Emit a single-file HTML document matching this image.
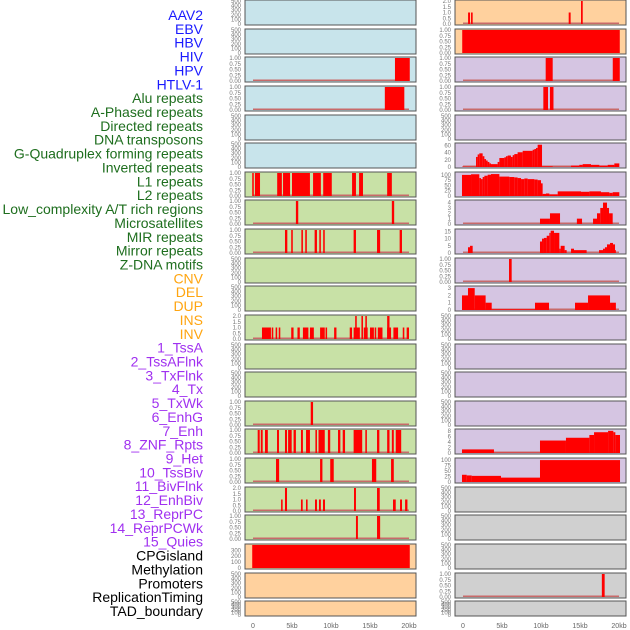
<!DOCTYPE html>
<html><head><meta charset="utf-8"><style>
html,body{margin:0;padding:0;background:#fff;}
svg{display:block;font-family:"Liberation Sans",sans-serif;}
</style></head><body>
<svg id="chart" width="630" height="630" viewBox="0 0 630 630" xmlns="http://www.w3.org/2000/svg"></svg>
<script>
// ---- data ----
const trackLabels = ["AAV2","EBV","HBV","HIV","HPV","HTLV-1","Alu repeats","A-Phased repeats","Directed repeats","DNA transposons","G-Quadruplex forming repeats","Inverted repeats","L1 repeats","L2 repeats","Low_complexity A/T rich regions","Microsatellites","MIR repeats","Mirror repeats","Z-DNA motifs","CNV","DEL","DUP","INS","INV","1_TssA","2_TssAFlnk","3_TxFlnk","4_Tx","5_TxWk","6_EnhG","7_Enh","8_ZNF_Rpts","9_Het","10_TssBiv","11_BivFlnk","12_EnhBiv","13_ReprPC","14_ReprPCWk","15_Quies","CPGisland","Methylation","Promoters","ReplicationTiming","TAD_boundary"];
const labelGroups = ["v","v","v","v","v","v","r","r","r","r","r","r","r","r","r","r","r","r","r","c","c","c","c","c","s","s","s","s","s","s","s","s","s","s","s","s","s","s","s","k","k","k","k","k"];
const xTicks = [0,5,10,15,20];
const xTickLabels = ["0","5kb","10kb","15kb","20kb"];
const ticksEmpty = [0,100,200,300,400,500];
const ticksUnit = [0,0.25,0.5,0.75,1];
const ticksTwo = [0,0.5,1,1.5,2];

// left column bars [startKb, endKb, value]
const L3 = [[18.2,20.1,1]];
const L4 = [[16.9,19.4,1]];
const L7 = [[-0.1,0.1,1],[0.25,0.9,1],[3.1,3.7,1],[3.85,4.75,1],[5.0,7.3,1],[7.7,8.7,1],[9.0,10.1,1],[12.7,13.2,1],[13.6,14.1,1],[17.2,17.8,1]];
const L8 = [[5.5,5.8,1],[17.8,18.1,1]];
const L9 = [[4.1,4.4,1],[4.9,5.1,1],[6.2,6.4,1],[6.7,6.9,1],[7.9,8.2,1],[8.5,8.7,1],[9.0,9.2,1],[12.9,13.2,1],[15.9,16.3,1],[18.8,19.1,1]];
const L12 = [[1.15,2.3,1],[2.4,2.6,1],[2.9,3.1,1],[3.3,3.5,1],[4.9,5.2,1],[5.7,6.0,1],[6.4,7.1,1],[7.3,7.8,1],[8.6,9.2,1],[9.3,9.5,1],[10.4,10.7,1],[12.4,12.7,1],[12.9,13.7,1],[13.1,13.3,2],[13.9,14.1,2],[14.2,14.7,1],[14.4,14.6,2],[15.0,15.5,1],[15.6,15.8,1],[16.0,16.6,1],[17.2,17.7,1],[17.2,17.5,2],[18.0,18.6,1],[19.2,19.4,1],[19.7,20.0,1]];
const L15 = [[7.4,7.7,1]];
const L16 = [[0.6,0.86,1],[1.0,1.24,1],[1.54,1.9,1],[3.08,3.33,1],[4.1,4.36,1],[4.5,4.96,1],[5.2,5.5,1],[6.15,6.4,1],[6.8,7.3,1],[8.0,8.2,1],[8.4,9.2,1],[9.6,9.9,1],[10.9,11.2,1],[11.5,11.8,1],[12.9,14.0,1],[14.4,14.6,1],[15.9,16.2,1],[17.2,17.5,1],[17.8,18.05,1],[18.3,19.0,1]];
const L17 = [[2.95,3.35,1],[8.6,8.9,1],[9.9,10.35,1],[15.25,15.8,1],[17.7,18.05,1]];
const L18 = [[3.6,3.8,1],[4.1,4.36,2],[6.15,6.37,1],[6.8,7.0,1],[7.95,8.2,1],[8.46,8.7,1],[8.97,9.23,1],[12.95,13.2,2],[15.9,16.25,2],[17.95,18.3,1],[18.85,19.1,1],[19.5,19.8,1]];
const L19 = [[13.2,13.45,1],[15.9,16.3,1]];
const L20 = [[-0.1,20.1,390]];

// right column bars
const R1 = [[0.65,0.9,1],[1.03,1.24,1],[13.55,13.8,1],[15.13,15.35,2]];
const R2 = [[-0.1,20.1,1]];
const R3 = [[10.6,11.5,1],[19.2,20.1,1]];
const R4 = [[10.3,10.9,1],[11.15,11.6,1]];
const R6 = [[-0.13,1.67,1],[1.67,1.88,28],[1.88,2.09,35],[2.09,2.52,38],[2.52,2.74,30],[2.74,2.95,22],[2.95,3.16,18],[3.16,3.38,14],[3.38,3.59,10],[3.59,4.44,8],[4.44,4.66,14],[4.66,5.3,25],[5.3,5.51,27],[5.51,5.73,30],[5.73,6.15,32],[6.15,6.37,28],[6.37,6.58,33],[6.58,7.0,36],[7.0,7.65,41],[7.65,8.93,45],[8.93,9.15,48],[9.15,9.36,50],[9.36,9.57,53],[9.57,10.13,62],[10.13,11.5,2],[11.5,13.85,0.5],[13.85,14.91,4],[14.91,15.34,6],[15.34,16.41,8],[16.41,17.48,6],[17.48,18.55,4],[18.55,19.4,6],[19.4,20.04,10]];
const R7 = [[-0.13,1.03,100],[1.03,2.09,103],[2.09,2.31,85],[2.31,2.52,80],[2.52,2.74,90],[2.74,3.16,96],[3.16,3.59,101],[3.59,4.66,104],[4.66,4.87,92],[4.87,5.94,92],[5.94,6.58,90],[6.58,7.0,88],[7.0,7.44,85],[7.44,7.86,80],[7.86,8.29,83],[8.29,9.15,80],[9.15,9.57,78],[9.57,10.0,75],[10.0,10.21,60],[10.21,10.64,10],[10.64,11.07,12],[11.07,12.14,8],[12.14,15.13,22],[15.13,16.2,20],[16.2,17.69,22],[17.69,18.76,18],[18.76,19.19,15],[19.19,20.04,18]];
const R8 = [[9.87,11.15,1],[11.15,12.44,2],[14.6,15.26,1],[16.67,17.18,1],[17.18,17.6,2],[17.6,17.95,3],[17.95,18.46,4],[18.46,18.72,3],[18.72,19.19,2]];
const R9 = [[0.64,0.9,4],[0.9,1.24,5],[9.87,10.13,8],[10.13,10.38,10],[10.38,10.73,10.5],[10.73,11.07,12],[11.07,11.24,14],[11.24,11.67,15.5],[11.67,12.35,14],[12.35,12.52,3],[12.52,13.03,5],[13.03,13.29,2],[13.85,14.23,3],[14.23,15.85,2],[17.44,17.95,2],[17.95,18.2,3],[18.2,18.46,4],[18.46,18.85,6],[18.85,19.23,7],[19.23,19.49,6],[19.49,19.6,2]];
const R10 = [[5.9,6.24,1]];
const R11 = [[-0.13,0.64,2],[0.64,1.5,3],[1.5,2.9,2],[2.9,3.68,1],[3.68,9.23,0.1],[9.23,11.03,1],[14.36,16.03,1],[16.03,18.85,2],[18.85,19.6,1]];
const R16 = [[-0.13,3.97,1.3],[3.97,9.87,0.1],[9.87,13.2,4.5],[13.2,16.2,5.5],[16.2,16.8,6.5],[16.8,18.6,7.5],[18.6,19.27,8],[19.27,19.53,7.5],[19.53,20.13,6.5]];
const R17 = [[-0.13,0.47,33],[0.47,1.11,30],[1.11,4.87,28],[4.87,9.87,20],[9.87,20.13,100]];
const R21 = [[17.8,18.16,1]];

// ---- layout ----
const rowTops = [0,29,57,86,115,143,172,200,229,258,286,315,344,372,401,429,458,487,515,544,573,601];
const colLeft = [{x0:245,x1:416,z:253},{x0:455,x1:626,z:463}];
const pxPerKb = 7.8;
const bgColors = {b:"#c8e4eb",g:"#c8e1a6",o:"#ffd19e",p:"#d5c5e2",k:"#d0d0d0"};
const E = null;
const leftPanels = [
 ["b",E,500,ticksEmpty,0],["b",E,500,ticksEmpty,0],["b",L3,1,ticksUnit,2],["b",L4,1,ticksUnit,2],["b",E,500,ticksEmpty,0],["b",E,500,ticksEmpty,0],
 ["g",L7,1,ticksUnit,2],["g",L8,1,ticksUnit,2],["g",L9,1,ticksUnit,2],["g",E,500,ticksEmpty,0],["g",E,500,ticksEmpty,0],["g",L12,2,ticksTwo,1],
 ["g",E,500,ticksEmpty,0],["g",E,500,ticksEmpty,0],["g",L15,1,ticksUnit,2],["g",L16,1,ticksUnit,2],["g",L17,1,ticksUnit,2],["g",L18,2,ticksTwo,1],["g",L19,1,ticksUnit,2],
 ["o",L20,390,[0,100,200,300],0],["o",E,500,ticksEmpty,0],["o",E,500,ticksEmpty,0]];
const rightPanels = [
 ["o",R1,2,ticksTwo,1],["o",R2,1,ticksUnit,2],["p",R3,1,ticksUnit,2],["p",R4,1,ticksUnit,2],["p",E,500,ticksEmpty,0],
 ["p",R6,64,[0,20,40,60],0],["p",R7,109,[0,25,50,75,100],0],["p",R8,4.3,[0,1,2,3,4],0],["p",R9,16,[0,5,10,15],0],["p",R10,1,ticksUnit,2],
 ["p",R11,3.15,[0,1,2,3],0],["p",E,500,ticksEmpty,0],["p",E,500,ticksEmpty,0],["p",E,500,ticksEmpty,0],["p",E,500,ticksEmpty,0],
 ["p",R16,8.3,[0,2,4,6,8],0],["p",R17,105,[0,25,50,75,100],0],["k",E,500,ticksEmpty,0],["k",E,500,ticksEmpty,0],["k",E,500,ticksEmpty,0],
 ["k",R21,1,ticksUnit,2],["k",E,500,ticksEmpty,0]];

const svg = document.getElementById('chart');
const NS = "http://www.w3.org/2000/svg";
function mk(tag, attrs){ const el=document.createElementNS(NS,tag); for(const k in attrs) el.setAttribute(k,attrs[k]); svg.appendChild(el); return el; }

// labels
const grpColor = {v:"#1a1aff",r:"#1e6e1e",c:"#ffa510",s:"#a030f0",k:"#000"};
trackLabels.forEach((t,i)=>{
  const el = mk('text',{x:203,y:(15+i*13.86+5).toFixed(1),'text-anchor':'end','font-size':'14',fill:grpColor[labelGroups[i]]});
  el.textContent=t;
  
  
});

function drawPanel(col, row, p){
  const c = colLeft[col];
  const top = rowTops[row];
  const h = row===21 ? 15 : 25;
  const bot = top + h;
  const xs = kb => c.z + kb*pxPerKb;
  const ys = v => bot - 1 - (v/p[2])*(h-2);
  const bg = mk('rect',{x:c.x0,y:top,width:c.x1-c.x0,height:h,fill:bgColors[p[0]],stroke:"#555",'stroke-width':1});
  
  
  p[3].forEach(v=>{
    const t = mk('text',{x:c.x0-4,y:(ys(v)+2).toFixed(1),'text-anchor':'end','font-size':'6',fill:"#777"});
    t.textContent = v.toFixed(p[4]);
    
    
  });
  if(p[1]){
    const base = mk('rect',{x:xs(0),y:bot-2.5,width:xs(20)-xs(0),height:1.5,fill:"#c86a6a"});
    
    
    p[1].forEach(b=>{
      const y = ys(Math.min(b[2],p[2]));
      const r = mk('rect',{x:xs(b[0]).toFixed(2),y:y.toFixed(2),width:(xs(b[1])-xs(b[0])).toFixed(2),height:(bot-1-y).toFixed(2),fill:"#ff0000"});
      
      
    });
  }
}
leftPanels.forEach((p,i)=>drawPanel(0,i,p));
rightPanels.forEach((p,i)=>drawPanel(1,i,p));

[0,1].forEach(col=>{
  xTicks.forEach((k,i)=>{
    const t = mk('text',{x:colLeft[col].z+k*pxPerKb,y:628,'text-anchor':'middle','font-size':'7',fill:"#666"});
    t.textContent = xTickLabels[i];
    
    
  });
});
</script>
</body></html>
